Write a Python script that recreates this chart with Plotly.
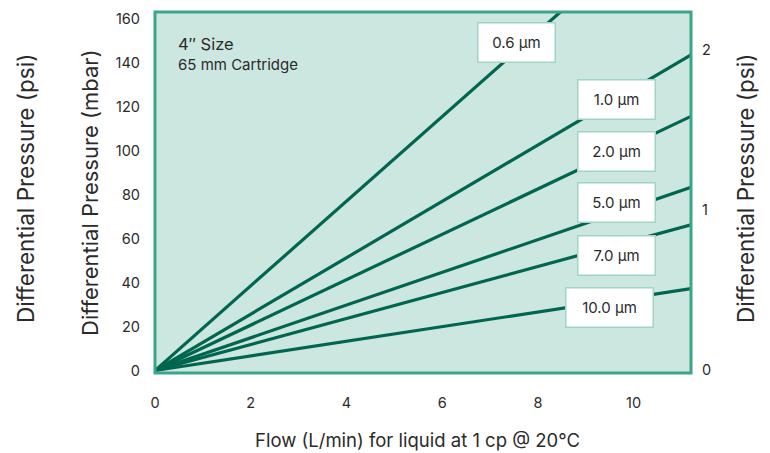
import plotly.graph_objects as go

# Data
series_names = ["0.6 µm", "1.0 µm", "2.0 µm", "5.0 µm", "7.0 µm", "10.0 µm"]
flow_start = [0, 0, 0, 0, 0, 0]
flow_end = [8.47, 11.2, 11.2, 11.2, 11.2, 11.2]
dp_start = [0, 0, 0, 0, 0, 0]
dp_end_mbar = [163.2, 143.7, 115.7, 83.4, 66.3, 37.3]

x_ticks = [0, 2, 4, 6, 8, 10]
y_ticks_mbar = [0, 20, 40, 60, 80, 100, 120, 140, 160]
y_ticks_psi = [0, 1, 2]

# label box positions (data coords of the left axis)
label_x = [7.55, 9.65, 9.65, 9.65, 9.65, 9.5]
label_y = [149.5, 123.5, 99.5, 76.5, 52.5, 28.5]

# page body has an 8px offset; plot area should sit at x 155..691, y 10..373
OFF = 8
W, H = 770 - OFF, 453 - OFF
L, R, T, B = 155 - OFF, 79, 10 - OFF, 80

line_color = "#00664f"
border_color = "#3aa58a"
fill_color = "#cce6e0"
font_family = "Inter, Roboto, sans-serif"
text_color = "#2b2b2b"

fig = go.Figure()
for i, name in enumerate(series_names):
    fig.add_trace(go.Scatter(
        x=[flow_start[i], flow_end[i]],
        y=[dp_start[i], dp_end_mbar[i]],
        mode="lines",
        line=dict(color=line_color, width=3.2),
        name=name,
        showlegend=False,
        hoverinfo="skip",
    ))
# dummy trace for secondary axis
fig.add_trace(go.Scatter(x=[0], y=[0], yaxis="y2", mode="markers",
                         marker=dict(opacity=0), showlegend=False, hoverinfo="skip"))

for i, name in enumerate(series_names):
    fig.add_annotation(
        x=label_x[i], y=label_y[i], xref="x", yref="y",
        text=name, showarrow=False,
        font=dict(family=font_family, size=15, color=text_color),
        bgcolor="white", bordercolor="#9fd4c6", borderwidth=1.5,
        borderpad=9, width=58 if i < 5 else 68, height=20,
        xanchor="center", yanchor="middle",
    )

pw = W - L - R
ph = H - T - B


def px(xp):
    return (xp - 155) / pw


def py(yp):
    return (373 - yp) / ph


fig.add_annotation(x=px(176), y=py(42), xref="paper", yref="paper",
                   text="4″ Size", showarrow=False, xanchor="left", yanchor="middle",
                   font=dict(family=font_family, size=16.5, color=text_color))
fig.add_annotation(x=px(176), y=py(63), xref="paper", yref="paper",
                   text="65 mm Cartridge", showarrow=False, xanchor="left", yanchor="middle",
                   font=dict(family=font_family, size=15, color=text_color))

# axis titles
fig.add_annotation(x=px(25), y=py(188), xref="paper", yref="paper",
                   text="Differential Pressure (psi)", showarrow=False, textangle=-90,
                   xanchor="center", yanchor="middle",
                   font=dict(family=font_family, size=22.5, color=text_color))
fig.add_annotation(x=px(90), y=py(192), xref="paper", yref="paper",
                   text="Differential Pressure (mbar)", showarrow=False, textangle=-90,
                   xanchor="center", yanchor="middle",
                   font=dict(family=font_family, size=22, color=text_color))
fig.add_annotation(x=px(745), y=py(188), xref="paper", yref="paper",
                   text="Differential Pressure (psi)", showarrow=False, textangle=-90,
                   xanchor="center", yanchor="middle",
                   font=dict(family=font_family, size=22.5, color=text_color))
fig.add_annotation(x=px(417), y=py(440), xref="paper", yref="paper",
                   text="Flow (L/min) for liquid at 1 cp @ 20°C", showarrow=False,
                   xanchor="center", yanchor="middle",
                   font=dict(family=font_family, size=18.5, color=text_color))

fig.add_shape(type="rect", xref="paper", yref="paper", x0=0, y0=0, x1=1, y1=1,
              line=dict(color=border_color, width=3), fillcolor="rgba(0,0,0,0)", layer="above")

fig.update_layout(
    width=W, height=H,
    margin=dict(l=L, r=R, t=T, b=B),
    paper_bgcolor="white",
    plot_bgcolor=fill_color,
    font=dict(family=font_family, size=14, color=text_color),
    xaxis=dict(range=[0, 11.2], tickvals=x_ticks, showgrid=False, zeroline=False,
               showline=False, ticks="", ticklabelstandoff=19,
               tickfont=dict(size=14.5, color=text_color)),
    yaxis=dict(range=[-1.13, 163.2], tickvals=y_ticks_mbar, showgrid=False, zeroline=False,
               showline=False, ticks="", ticklabelstandoff=14, ticklabeloverflow="allow",
               tickfont=dict(size=14.5, color=text_color)),
    yaxis2=dict(range=[-0.02, 2.24], tickvals=y_ticks_psi, overlaying="y", side="right",
                showgrid=False, zeroline=False, showline=False, ticks="",
                ticklabelstandoff=10, tickfont=dict(size=14.5, color=text_color)),
)

fig.write_html("out.html")
